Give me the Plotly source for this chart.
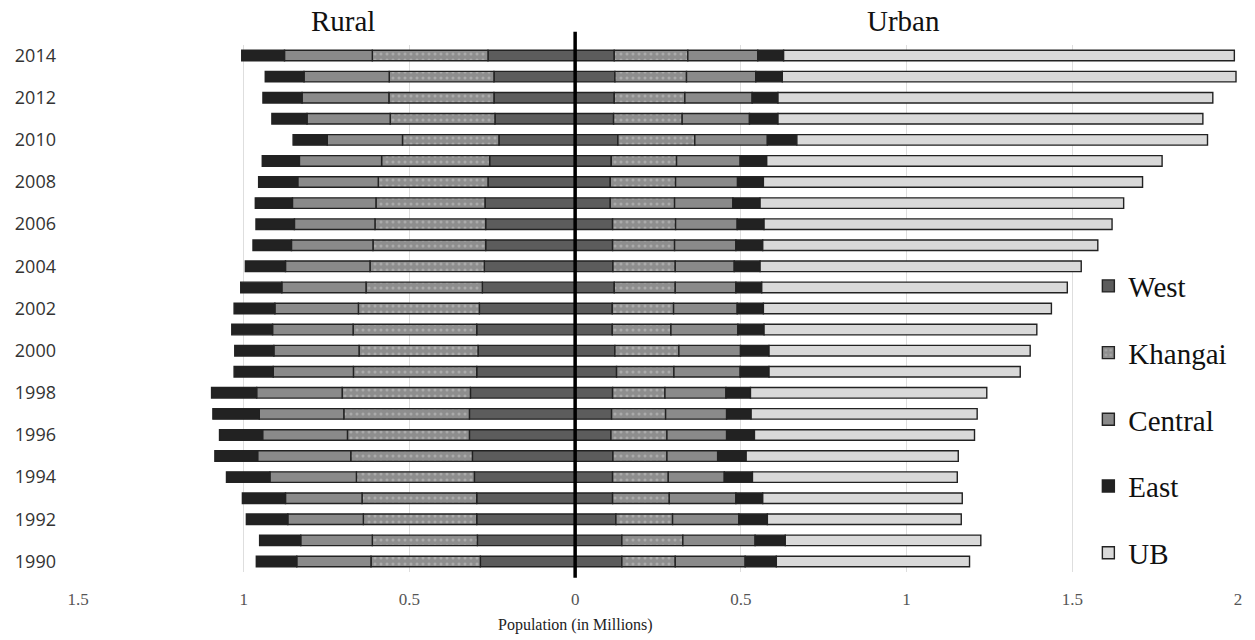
import plotly.graph_objects as go

years = list(range(2014, 1989, -1))

rural_west = [0.263, 0.245, 0.245, 0.242, 0.230, 0.258, 0.263, 0.272, 0.270, 0.270, 0.274, 0.280, 0.289,
              0.297, 0.293, 0.297, 0.316, 0.319, 0.319, 0.310, 0.304, 0.297, 0.297, 0.295, 0.286]
rural_khangai = [0.349, 0.316, 0.317, 0.316, 0.291, 0.326, 0.331, 0.329, 0.334, 0.340, 0.345, 0.351, 0.365,
                 0.373, 0.359, 0.372, 0.387, 0.379, 0.368, 0.367, 0.356, 0.346, 0.342, 0.317, 0.330]
rural_central = [0.265, 0.257, 0.262, 0.251, 0.227, 0.248, 0.243, 0.252, 0.243, 0.246, 0.255, 0.254, 0.252,
                 0.243, 0.257, 0.242, 0.258, 0.255, 0.256, 0.281, 0.261, 0.231, 0.228, 0.216, 0.224]
rural_east = [0.129, 0.117, 0.118, 0.106, 0.103, 0.112, 0.118, 0.112, 0.116, 0.116, 0.121, 0.124, 0.123,
              0.123, 0.118, 0.118, 0.136, 0.140, 0.130, 0.129, 0.131, 0.130, 0.125, 0.124, 0.122]

urban_west = [0.118, 0.120, 0.118, 0.116, 0.129, 0.109, 0.106, 0.106, 0.113, 0.113, 0.114, 0.118, 0.112,
              0.112, 0.120, 0.125, 0.113, 0.110, 0.108, 0.114, 0.113, 0.113, 0.123, 0.141, 0.141]
urban_khangai = [0.222, 0.216, 0.213, 0.207, 0.232, 0.197, 0.197, 0.194, 0.190, 0.187, 0.188, 0.184, 0.185,
                 0.177, 0.193, 0.173, 0.158, 0.163, 0.169, 0.163, 0.168, 0.171, 0.171, 0.184, 0.161]
urban_central = [0.211, 0.209, 0.203, 0.203, 0.219, 0.192, 0.187, 0.176, 0.186, 0.185, 0.178, 0.183, 0.192,
                 0.202, 0.186, 0.200, 0.184, 0.184, 0.180, 0.153, 0.169, 0.201, 0.200, 0.218, 0.211]
urban_east = [0.078, 0.080, 0.078, 0.086, 0.089, 0.080, 0.078, 0.082, 0.081, 0.081, 0.078, 0.078, 0.079,
              0.079, 0.086, 0.087, 0.074, 0.074, 0.084, 0.086, 0.085, 0.081, 0.086, 0.091, 0.094]
urban_ub = [1.360, 1.369, 1.312, 1.282, 1.239, 1.193, 1.144, 1.097, 1.050, 1.011, 0.969, 0.922, 0.869,
            0.823, 0.788, 0.758, 0.713, 0.682, 0.664, 0.640, 0.618, 0.602, 0.585, 0.590, 0.583]

x_tickvals = [-1.5, -1, -0.5, 0, 0.5, 1, 1.5, 2]
x_ticktext = ["1.5", "1", "0.5", "0", "0.5", "1", "1.5", "2"]

regions = [
    ("West", rural_west, urban_west, dict(color="#5c5c5c")),
    ("Khangai", rural_khangai, urban_khangai,
     dict(color="#8e8e8e", pattern=dict(shape=".", fgcolor="#c8c8c8", bgcolor="#8e8e8e", size=6, solidity=0.2))),
    ("Central", rural_central, urban_central, dict(color="#8a8a8a")),
    ("East", rural_east, urban_east, dict(color="#222222")),
]

OUTLINE = dict(color="#222222", width=1.4)
BAR_W = 0.5

fig = go.Figure()
for name, rv, uv, mk in regions:
    m = dict(mk)
    m["line"] = OUTLINE
    fig.add_trace(go.Bar(y=years, x=[-v for v in rv], orientation="h", name=name, legendgroup=name,
                         marker=m, width=BAR_W, showlegend=True))
    fig.add_trace(go.Bar(y=years, x=uv, orientation="h", name=name, legendgroup=name,
                         marker=m, width=BAR_W, showlegend=False))
fig.add_trace(go.Bar(y=years, x=urban_ub, orientation="h", name="UB", legendgroup="UB",
                     marker=dict(color="#d9d9d9", line=OUTLINE), width=BAR_W))

fig.add_shape(type="line", xref="x", yref="paper", x0=0, x1=0, y0=-0.011, y1=1.025,
              line=dict(color="black", width=3.5), layer="above")

serif = "Liberation Serif"
fig.add_annotation(text="Rural", xref="x", yref="paper", x=-0.70, y=1.045, showarrow=False,
                   font=dict(family=serif, size=29, color="#111"), yanchor="middle")
fig.add_annotation(text="Urban", xref="x", yref="paper", x=0.99, y=1.045, showarrow=False,
                   font=dict(family=serif, size=29, color="#111"), yanchor="middle")
fig.add_annotation(text="Population (in Millions)", xref="x", yref="paper", x=0, y=-0.101, showarrow=False,
                   font=dict(family=serif, size=16, color="#222"), yanchor="middle")

fig.update_layout(
    width=1255, height=640,
    barmode="relative",
    plot_bgcolor="white", paper_bgcolor="white",
    margin=dict(l=78, r=17, t=45, b=68, autoexpand=False),
    xaxis=dict(range=[-1.5, 2], tickvals=x_tickvals, ticktext=x_ticktext, showgrid=True,
               gridcolor="#dedede", gridwidth=1, zeroline=False, showline=False, automargin=False,
               tickfont=dict(family=serif, size=17, color="#555"), ticklabelstandoff=15),
    yaxis=dict(range=[1989.5, 2014.5], tick0=1990, dtick=2, showgrid=False, zeroline=False,
               showline=False, automargin=False,
               tickfont=dict(family="Open Sans", size=18, color="#333"),
               ticklabelstandoff=21),
    legend=dict(x=0.871, y=0.591, xanchor="left", yanchor="top", traceorder="grouped",
                font=dict(family=serif, size=29, color="#111"), bgcolor="rgba(0,0,0,0)",
                tracegroupgap=26, itemwidth=30),
)

fig.write_html("out.html", config={"displayModeBar": False},
               post_script="document.body.style.margin='0px';document.body.style.overflow='hidden';")
